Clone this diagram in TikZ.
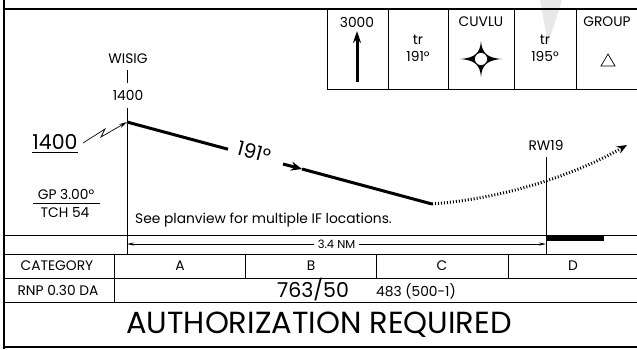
\documentclass[tikz,border=0pt]{standalone}
\usepackage{fontspec}
\setmainfont{Poppins}
\usetikzlibrary{arrows.meta}
\tikzset{
  txt/.style={inner sep=0pt, font=\fontsize{13.8}{13.8}\selectfont},
  big/.style={inner sep=0pt, font=\fontsize{20.5}{20.5}\selectfont},
  huge/.style={inner sep=0pt, font=\fontsize{30.5}{30.5}\selectfont},
  thickframe/.style={line width=2pt},
  thinrule/.style={line width=0.9pt},
  hair/.style={line width=0.7pt},
  track/.style={line width=3pt},
  dotline/.style={line width=3pt, dash pattern=on 1pt off 2pt},
}
\begin{document}
\begin{tikzpicture}[x=1pt,y=-1pt]
\useasboundingbox (0,0) rectangle (637,349);
% faint watermark stroke
\fill[gray!18] (540,0) -- (562,0) -- (548,44) -- cycle;
% frame
\draw[thickframe] (3.5,0) -- (3.5,349);
\draw[thickframe] (3,9) -- (637,9);
\draw[thickframe] (3,347) -- (637,347);
% top-right box
\draw[thinrule] (327,9) -- (327,89) -- (637,89);
\foreach \x in {388,448,514,576} \draw[thinrule] (\x,9) -- (\x,89);
\node[txt] (t3000) at (357,22) {3000};
\coordinate (upbot) at (357,82);
\coordinate (uptop) at (357,31);
\draw[line width=3pt, -{Stealth[length=12pt,width=8pt]}] (upbot) -- (uptop);
\node[txt] (tr1) at (418,40) {tr};
\node[txt] (c191) at (418,56) {191°};
\node[txt] (cuvlu) at (481,22) {CUVLU};
\begin{scope}[shift={(481,59)}]
  \fill (0,-18) .. controls (-1,-6) and (-6,-1) .. (-21,0)
        .. controls (-6,1) and (-1,6) .. (0,18)
        .. controls (1,6) and (6,1) .. (21,0)
        .. controls (6,-1) and (1,-6) .. cycle;
  \draw[fill=white, line width=0.6pt] (0,0) circle (6.5);
\end{scope}
\node[txt] (tr2) at (545,40) {tr};
\node[txt] (c195) at (545,56) {195°};
\node[txt] (group) at (607,22) {GROUP};
\draw[hair] (601,66) -- (615,66) -- (608,54) -- cycle;
% fix
\node[txt] (wisig) at (128,59) {WISIG};
\node[txt] (alt) at (128,95) {1400};
\coordinate (ticktop) at (127,70);
\coordinate (tickbot) at (127,83);
\draw[hair] (ticktop) -- (tickbot);
\coordinate (fixtop) at (127,108);
\coordinate (fixbot) at (127,254);
\draw[hair] (fixtop) -- (fixbot);
% profile
\coordinate (p0) at (127,122);
\coordinate (p1) at (228,149.2);
\coordinate (p2) at (283,164);
\coordinate (p3) at (302,169);
\coordinate (p4) at (432,204);
\coordinate (p5) at (627,145);
\draw[track] (p0) -- (p1);
\node[inner sep=0pt, font=\fontsize{20}{20}\selectfont, rotate=-15] (crs) at (254,152) {191°};
\draw[line width=3pt, -{Stealth[length=11pt,width=9pt]}] (p2) -- (p3);
\draw[track] (p3) -- (p4);
\draw[dotline, -{Stealth[length=10pt,width=8pt]}] (p4) .. controls (510,198) and (580,172) .. (p5);
% left labels
\node[big] (alt2) at (55,142) {1400};
\draw[hair] ([yshift=-3pt]alt2.south west) -- ([yshift=-3pt]alt2.south east);
\coordinate (l0) at (83,143);
\coordinate (l1) at (105,129);
\coordinate (l2) at (101,137);
\draw[hair, -{Stealth[length=8pt,width=4pt]}] (l0) -- (l1) -- (l2) -- (p0);
\node[txt] (gp) at (66,194) {GP 3.00°};
\draw[hair] (33,203) -- (100,203);
\node[txt] (tch) at (65,213) {TCH 54};
\node[txt, anchor=west] (note) at (135,220) {See planview for multiple IF locations.};
% runway
\node[txt] (rw) at (546,145) {RW19};
\coordinate (rwtop) at (546,157);
\coordinate (rwbot) at (546,254);
\draw[hair] (rwtop) -- (rwbot);
\fill (546,236) rectangle (604,241);
% table rules
\draw[thinrule] (3,235) -- (637,235);
\draw[thinrule] (3,254) -- (637,254);
\draw[thinrule] (3,278) -- (637,278);
\draw[thinrule] (3,302) -- (637,302);
\foreach \x in {114,245,376,508} \draw[thinrule] (\x,254) -- (\x,278);
\draw[thinrule] (114,278) -- (114,302);
% distance
\coordinate (d0) at (127,244);
\coordinate (d1) at (546,244);
\draw[hair, {Stealth[length=7pt,width=3pt]}-{Stealth[length=7pt,width=3pt]}] (d0) -- (d1)
  node[midway, fill=white, inner xsep=4pt, inner ysep=0pt, font=\fontsize{11.5}{11.5}\selectfont] (dist) {3.4 NM};
% table text
\node[txt] (cat) at (57,266) {CATEGORY};
\node[txt] (ca) at (180,266) {A};
\node[txt] (cb) at (311,266) {B};
\node[txt] (cc) at (442,266) {C};
\node[txt] (cd) at (573,266) {D};
\node[txt] (rnp) at (58,290) {RNP 0.30 DA};
\node[big] (da) at (313,290) {763/50};
\node[txt] (haa) at (416,291) {483 (500-1)};
\node[huge] (auth) at (319,325) {AUTHORIZATION REQUIRED};
\end{tikzpicture}
\end{document}
